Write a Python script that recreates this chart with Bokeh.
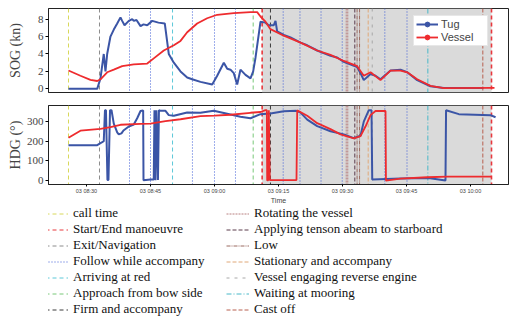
import pandas as pd
from bokeh.plotting import figure
from bokeh.models import (Range1d, Span, BoxAnnotation, Legend, LegendItem, FixedTicker,
                          DatetimeTickFormatter)
from bokeh.layouts import column
from bokeh.embed import file_html
from bokeh.resources import INLINE

DAY = "2021-05-03 "
NAN = float("nan")

# ---------------- data ----------------
tick_labels = ["03 08:30", "03 08:45", "03 09:00", "03 09:15", "03 09:30", "03 09:45", "03 10:00"]
x_start, x_end = "08:21:06", "10:08:54"

sog_ticks = [0, 2, 4, 6, 8]
hdg_ticks = [0, 100, 200, 300]

tug_sog_time = ["08:25:47", "08:32:31", "08:33:17", "08:34:03", "08:34:27", "08:34:51", "08:35:37",
                "08:36:24", "08:37:12", "08:37:58", "08:38:22", "08:38:55", "08:39:55", "08:40:43",
                "08:41:05", "08:41:43", "08:42:40", "08:43:22", "08:44:14", "08:45:24", "08:46:52",
                "08:48:21", "08:49:17", "08:50:28", "08:52:02", "08:53:36", "08:54:46", "08:56:43",
                "08:59:28", "09:00:38", "09:02:11", "09:02:59", "09:03:45", "09:04:31", "09:05:19",
                "09:06:05", "09:07:16", "09:08:26", "09:09:04", "09:09:37", "09:10:47", "09:11:57",
                "09:12:40", "09:13:54", "09:14:18", "09:14:41", "09:16:14", "09:17:49", "09:20:10",
                "09:21:44", "09:24:04", "09:25:33", "09:27:11", "09:28:45", "09:30:18", "09:33:26",
                "09:34:13", "09:34:59", "09:36:34", "09:37:44", "09:38:54", "09:41:15", "09:43:35",
                "09:45:10", "09:47:30", "09:50:37", "09:53:44", "10:03:02"]
tug_sog = [0, 0, 1.2, 4.0, 2.0, 4.0, 6.0,
           6.8, 7.5, 8.2, 7.8, 7.3, 7.8, 8.0,
           7.8, 7.9, 7.2, 7.4, 7.3, 7.8, 7.6,
           7.5, 4.0, 3.0, 2.0, 1.3, 1.1, 0.8,
           0.5, 1.5, 3.0, 2.3, 2.2, 1.8, 0.5,
           2.2, 1.6, 1.2, 2.0, 3.6, 7.7, 7.6,
           7.3, 7.3, 7.8, 6.6, 6.2, 5.9, 5.3,
           5.0, 4.4, 4.1, 3.8, 3.6, 3.1, 2.5,
           1.8, 1.0, 1.7, 1.5, 1.1, 2.1, 2.2,
           1.9, 1.0, 0.3, 0.1, 0.1]

vessel_sog_time = ["08:25:47", "08:28:35", "08:30:56", "08:32:31", "08:33:17", "08:34:51", "08:36:24",
                   "08:38:22", "08:41:05", "08:44:14", "08:45:46", "08:48:07", "08:50:28", "08:52:02",
                   "08:53:36", "08:55:56", "08:58:17", "09:00:38", "09:04:31", "09:08:26", "09:10:00",
                   "09:10:47", "09:11:57", "09:13:07", "09:16:14", "09:20:10", "09:24:04", "09:27:11",
                   "09:30:18", "09:33:26", "09:34:59", "09:36:34", "09:38:54", "09:41:15", "09:43:35",
                   "09:45:10", "09:47:30", "09:50:37", "09:53:44", "10:05:37"]
vessel_sog = [2.1, 1.5, 1.03, 0.9, 1.1, 1.9, 2.2,
              2.6, 2.8, 2.9, 3.5, 4.4, 5.0, 5.5,
              6.5, 7.5, 8.1, 8.5, 8.7, 8.8, 8.8,
              8.3, 7.7, 6.85, 6.1, 5.3, 4.4, 3.9,
              3.2, 2.6, 1.5, 1.9, 1.0, 2.1, 2.1,
              1.9, 1.1, 0.34, 0.08, 0.1]

tug_hdg_time = ["08:25:47", "08:32:31", "08:33:17", "08:34:03", "08:34:20", "08:34:34", "08:34:55",
                "08:35:09", "08:35:31", "08:35:52", "08:36:24", "08:37:12",
                "08:37:34", "08:38:12", "08:38:40", "08:39:55", "08:41:05", "08:41:53", "08:42:40",
                "08:43:17", "08:43:22", "08:45:00", "08:45:46", "08:45:56", "08:46:10", "08:46:24",
                "08:46:45", "08:46:59", "08:47:20", "08:48:31", "08:49:17", "08:50:28", "08:53:36",
                "08:56:43", "08:59:50", "09:02:59", "09:06:05", "09:08:26", "09:10:47", "09:13:07",
                "09:16:14", "09:19:13", "09:20:10", "09:21:44", "09:24:04", "09:27:11", "09:30:18",
                "09:32:39", "09:34:13", "09:34:59", "09:36:10", "09:36:48", "09:36:58", "09:43:35",
                "09:50:09", "09:54:08", "09:54:16", "09:57:16", "10:04:41", "10:05:52"]
tug_hdg = [180, 180, 190, 200, 358, 358, 3,
           3, 358, 358, 290, 245,
           235, 240, 255, 275, 285, 317, 354,
           357, 2, 5, 5, 358, 2, 358,
           3, 358, 355, 355, 333, 330, 346,
           345, 355, 340, 325, 317, 338, 341,
           353, 355, 346, 310, 277, 251, 235,
           216, 228, 300, 358, 358, 5, 10,
           13, 0, 358, 338, 333, 322]

vessel_hdg_time = ["08:25:47", "08:28:35", "08:33:17", "08:35:37", "08:37:58", "08:42:40", "08:45:00",
                   "08:48:31", "08:52:02", "08:56:43", "09:00:00", "09:03:45", "09:08:26", "09:10:47",
                   "09:11:57", "09:12:16", "09:12:21", "09:12:35", "09:12:44", "09:12:58", "09:19:13",
                   "09:19:23", "09:21:44", "09:24:04", "09:27:11", "09:29:32", "09:32:39", "09:34:13",
                   "09:35:23", "09:36:34", "09:37:44", "09:40:05", "09:40:11", "09:43:35", "09:49:51",
                   "09:54:32", "10:04:55"]
vessel_hdg = [218, 254, 263, 272, 284, 288, 290,
              303, 312, 328, 330, 335, 345, 349,
              358, 358, 1, 1, 358, 2, 3,
              357, 330, 292, 262, 235, 215, 226,
              275, 333, 354, 354, 0, 10, 17,
              20, 20]

event_labels = ["call time", "Start/End manoeuvre", "Exit/Navigation", "Follow while accompany",
                "Arriving at red", "Approach from bow side", "Firm and accompany",
                "Rotating the vessel", "Applying tenson abeam to starboard", "Low",
                "Stationary and accompany", "Vessel engaging reverse engine", "Waiting at mooring",
                "Cast off"]
event_times = [
    ["08:25:47"],
    ["09:11:10", "10:04:55"],
    ["08:33:03"],
    ["08:40:05", "08:45:00", "08:54:50", "09:00:00", "09:04:55", "09:16:06", "09:20:02",
     "09:24:58", "09:29:56", "09:39:55", "09:45:07"],
    ["08:50:10"],
    ["09:09:04"],
    ["09:13:07"],
    ["09:30:52", "09:31:14"],
    ["09:32:53"],
    ["09:33:25", "09:34:00"],
    ["09:36:01"],
    ["09:36:58"],
    ["09:50:00"],
    ["10:02:53"],
]

# ---------------- styles ----------------
BLUE = "#3b55a6"
RED = "#ee2b2e"
ev_colors = ["#d8d85a", "#e8383d", "#8c8c8c", "#3d5bd6", "#5cc8d8", "#78c878", "#3a3a3a",
             "#b88080", "#5a3a4a", "#9a6a60", "#e0a878", "#a8a8a8", "#48b8c8", "#b86050"]
ev_dashes = ["4 3", "4 3", "4 3", "1 2", "4 3", "4 3", "4 3",
             "2 1", "4 2", "4 1 1 1", "4 2", "3 5", "5 2 1 2", "4 2"]
ev_widths = [1, 1.6, 1, 1, 1, 1, 1, 1, 1, 1, 1, 1, 1, 1]

SERIF = "Liberation Serif"
SANS = "Liberation Sans"


def ts(s):
    return pd.Timestamp(DAY + s)


def ms(s):
    return ts(s).value / 1e6


def times(lst):
    return [ts(s) for s in lst]


tick_ms = [pd.Timestamp("2021-05-" + lab).value / 1e6 for lab in tick_labels]
xr = Range1d(ms(x_start), ms(x_end))

common = dict(width=509, x_axis_type="datetime", output_backend="svg", toolbar_location=None,
              x_range=xr, min_border_left=48, min_border_right=1)

p1 = figure(height=105, y_range=Range1d(-0.42, 9.22), min_border_top=8, min_border_bottom=13,
            **common)
p2 = figure(height=101, y_range=Range1d(-20, 382), min_border_top=0, min_border_bottom=0,
            **common)

for p, ylab, yt, lstand in ((p1, "SOG (kn)", sog_ticks, 12), (p2, "HDG (°)", hdg_ticks, 1)):
    p.grid.visible = False
    p.outline_line_color = "#222222"
    p.background_fill_color = "white"
    p.yaxis.ticker = FixedTicker(ticks=yt)
    p.yaxis.axis_label = ylab
    p.yaxis.axis_label_text_font = SERIF
    p.yaxis.axis_label_text_font_size = "14px"
    p.yaxis.axis_label_text_font_style = "normal"
    p.yaxis.axis_label_standoff = lstand
    p.yaxis.major_label_text_font = SERIF
    p.yaxis.major_label_text_font_size = "11px"
    p.yaxis.major_label_standoff = 2
    p.axis.major_tick_out = 3
    p.axis.major_tick_in = 0
    p.axis.minor_tick_out = 0
    p.axis.minor_tick_in = 0
    p.axis.axis_line_color = "#222222"

    # manoeuvre shading between first and last Start/End event
    p.add_layout(BoxAnnotation(left=ms(event_times[1][0]), right=ms(event_times[1][-1]),
                               fill_color="#dadada", fill_alpha=1.0, line_color=None,
                               level="underlay"))
    for i, tl in enumerate(event_times):
        for t in tl:
            p.add_layout(Span(location=ms(t), dimension="height", line_color=ev_colors[i],
                              line_dash=ev_dashes[i], line_width=ev_widths[i], level="underlay"))

p1.xaxis.visible = False

p2.xaxis.ticker = FixedTicker(ticks=tick_ms)
fmt = "%d %H:%M"
p2.xaxis.formatter = DatetimeTickFormatter(seconds=fmt, minsec=fmt, minutes=fmt, hourmin=fmt,
                                           hours=fmt, days=fmt, months=fmt, years=fmt)
p2.xaxis.major_tick_out = 2
p2.xaxis.major_label_text_font = SANS
p2.xaxis.major_label_text_font_size = "5.5px"
p2.xaxis.major_label_standoff = 1
p2.xaxis.axis_label = "Time"
p2.xaxis.axis_label_text_font = SANS
p2.xaxis.axis_label_text_font_size = "7px"
p2.xaxis.axis_label_text_font_style = "normal"
p2.xaxis.axis_label_standoff = 0

# data lines
tl1 = p1.line(times(tug_sog_time), tug_sog, color=BLUE, line_width=2)
vl1 = p1.line(times(vessel_sog_time), vessel_sog, color=RED, line_width=1.8)
# legend-only markers (NaN point: not drawn in the plot)
tm1 = p1.scatter(x=[NAN], y=[NAN], marker="circle", size=5, color=BLUE)
vm1 = p1.scatter(x=[NAN], y=[NAN], marker="circle", size=5, color=RED)
p2.line(times(tug_hdg_time), tug_hdg, color=BLUE, line_width=2)
p2.line(times(vessel_hdg_time), vessel_hdg, color=RED, line_width=1.8)

leg1 = Legend(items=[LegendItem(label="Tug", renderers=[tl1, tm1]),
                     LegendItem(label="Vessel", renderers=[vl1, vm1])],
              location=(365, 46), padding=2, spacing=1, margin=0,
              glyph_width=22, glyph_height=12, label_height=12, label_standoff=3,
              label_width=44, label_text_line_height=1.0,
              label_text_font=SANS, label_text_font_size="11px",
              border_line_color="#d0d0d0", background_fill_color="white",
              background_fill_alpha=1.0)
p1.add_layout(leg1)

# legend panel for the event lines (its frame is aligned with the plots above, left = 48px)
p3 = figure(width=509, height=110, x_range=Range1d(0, 1), y_range=Range1d(0, 1),
            x_axis_location=None, y_axis_location=None,
            output_backend="svg", toolbar_location=None, min_border=0,
            min_border_left=48, min_border_right=1, min_border_top=0, min_border_bottom=0)
p3.grid.visible = False
p3.outline_line_color = None

items = []
for i, lab in enumerate(event_labels):
    r = p3.line(x=[NAN], y=[NAN], line_color=ev_colors[i], line_dash=ev_dashes[i], line_width=1)
    items.append(LegendItem(label=lab, renderers=[r]))

leg_style = dict(padding=0, margin=0, spacing=0, glyph_width=23, glyph_height=15,
                 label_height=15, label_standoff=5, label_text_font=SERIF,
                 label_text_font_size="13px", label_text_line_height=1.0,
                 label_text_color="#111111",
                 border_line_color=None, background_fill_alpha=0)
p3.add_layout(Legend(items=items[:7], location=(-3, -1), **leg_style))
p3.add_layout(Legend(items=items[7:], location=(178, -1), **leg_style))

layout = column(p1, p2, p3)
open("out.html", "w").write(file_html(layout, INLINE))
